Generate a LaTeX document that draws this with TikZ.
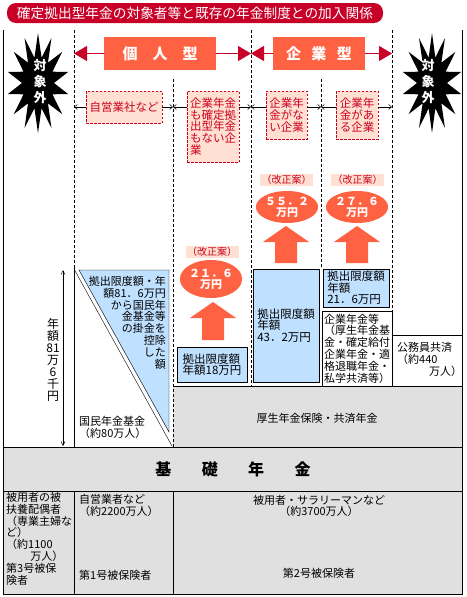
\documentclass[tikz,border=0pt]{standalone}
\usepackage{fontspec}
\setmainfont{Noto Sans CJK JP}
\usetikzlibrary{arrows.meta,positioning,shapes.geometric}
\definecolor{titlered}{RGB}{200,0,40}
\definecolor{hdrorange}{RGB}{255,98,66}
\definecolor{pinkfill}{RGB}{255,224,210}
\definecolor{linkred}{RGB}{204,0,30}
\definecolor{limitblue}{RGB}{192,224,255}
\definecolor{basegray}{RGB}{224,224,224}

\begin{document}
\begin{tikzpicture}[x=1pt,y=-1pt,
  every node/.style={inner sep=0pt},
  small/.style={font=\fontsize{11}{11.8}\selectfont},
  kind/.style={draw=linkred,dash pattern=on 2.5pt off 1.5pt,fill=pinkfill,text=linkred,
    font=\fontsize{11.5}{11.7}\selectfont,align=left},
  hdr/.style={fill=hdrorange,text=white,font=\fontsize{15}{15}\selectfont\bfseries,minimum height=33},
  hdrarrow/.style={titlered,line width=1pt,-{Triangle[length=13pt,width=15pt]}},
  link/.style={line width=0.5pt,-{Straight Barb[length=3pt,width=5pt]}},
  rev/.style={fill=pinkfill,text=linkred,font=\fontsize{10}{10}\selectfont,inner sep=1.5pt},
  bubble/.style={ellipse,fill=hdrorange,text=white,font=\fontsize{11}{11}\selectfont\bfseries,align=center},
  limit/.style={draw,fill=limitblue,font=\fontsize{11.5}{11.5}\selectfont,align=left},
  outside/.style={text=white,font=\fontsize{13}{16}\selectfont\bfseries,align=center},
  guide/.style={dash pattern=on 3pt off 2pt,line width=0.6pt},
  span/.style={line width=0.5pt,{Straight Barb[length=4pt,width=4pt]}-{Straight Barb[length=4pt,width=4pt]}}]
  \useasboundingbox (0,0) rectangle (466,597);

  \node[fill=titlered,rounded corners=9pt,text=white,font=\fontsize{13.7}{14}\selectfont,
    minimum width=376,minimum height=20] (title) at (195,13)
    {確定拠出型年金の対象者等と既存の年金制度との加入関係};

  \fill[basegray] (3,447) rectangle (462,594);
  \fill[basegray] (173,386) rectangle (462,447);
  \draw[line width=0.8pt] (3,30) -- (3,594) -- (462,594) -- (462,30);
  \draw (3,447) -- (462,447);
  \draw (3,491) -- (462,491);
  \draw (74,491) -- (74,594);
  \draw (173,491) -- (173,594);
  \draw (173,386) -- (462,386);

  \draw[guide] (74,30) -- (74,268);
  \draw[guide] (173,79) -- (173,447);
  \draw[guide] (251,30) -- (251,386);
  \draw[guide] (321,79) -- (321,269);
  \draw[guide] (392,30) -- (392,311);
  \draw (392,311) -- (392,386);
  \draw (392,335) -- (462,335);

  \fill plot[samples at={0,...,27}] ({38+(31-15*mod(\x,2))*sin(\x*360/28)},{83-(50-24*mod(\x,2))*cos(\x*360/28)}) -- cycle;
  \fill plot[samples at={0,...,27}] ({432+(30-15*mod(\x,2))*sin(\x*360/28)},{83-(50-24*mod(\x,2))*cos(\x*360/28)}) -- cycle;
  \node[outside] (outL) at (40,82) {対\\象\\外};
  \node[outside] (outR) at (428,82) {対\\象\\外};

  \coordinate (h74) at (74,53.5);
  \coordinate (h251) at (251,53.5);
  \coordinate (h392) at (392,53.5);
  \node[hdr,minimum width=112] (indiv) at (160,53.5) {個\hspace{1em}人\hspace{1em}型};
  \node[hdr,minimum width=92] (corp) at (319,53.5) {企\hspace{0.7em}業\hspace{0.7em}型};
  \draw[hdrarrow] (indiv.west) -- (h74);
  \draw[hdrarrow] (indiv.east) -- (h251);
  \draw[hdrarrow] (corp.west) -- (h251);
  \draw[hdrarrow] (corp.east) -- (h392);

  \node[kind,minimum width=76,minimum height=32] (selfemp) at (124,107) {自営業社など};
  \node[kind,minimum width=52,minimum height=71] (nofund) at (213,126.5) {企業年金\\も確定拠\\出型年金\\もない企\\業};
  \node[kind,minimum width=41,minimum height=48] (nopens) at (286.5,115) {企業年\\金がな\\い企業};
  \node[kind,minimum width=42,minimum height=48] (haspens) at (357,115) {企業年\\金があ\\る企業};
  \coordinate (g74) at (74,107);
  \coordinate (g173) at (173,107);
  \coordinate (g251) at (251,107);
  \coordinate (g321) at (321,107);
  \coordinate (g392) at (392,107);
  \draw[link] (selfemp.west) -- (g74);
  \draw[link] (selfemp.east) -- (g173);
  \draw[link] (nofund.west |- g173) -- (g173);
  \draw[link] (nofund.east |- g251) -- (g251);
  \draw[link] (nopens.west |- g251) -- (g251);
  \draw[link] (nopens.east |- g321) -- (g321);
  \draw[link] (haspens.west |- g321) -- (g321);
  \draw[link] (haspens.east |- g392) -- (g392);

  \node[rev] (rev1) at (212,252) {（改正案）};
  \node[rev] (rev2) at (286.5,180) {（改正案）};
  \node[rev] (rev3) at (357.5,180) {（改正案）};
  \node[bubble,minimum width=62,minimum height=38] (up216) at (211,279) {２１．６\\万円};
  \node[bubble,minimum width=61,minimum height=32] (up552) at (287,207) {５５．２\\万円};
  \node[bubble,minimum width=61,minimum height=32] (up276) at (357,207) {２７．６\\万円};
  \foreach \cx/\ty/\by in {213/302/340,286/226/263,357/226/263}
    \fill[hdrorange] (\cx,\ty) -- ({\cx+23},{\ty+16}) -- ({\cx+11},{\ty+16}) -- ({\cx+11},\by)
      -- ({\cx-11},\by) -- ({\cx-11},{\ty+16}) -- ({\cx-23},{\ty+16}) -- cycle;

  \filldraw[fill=limitblue] (79,270) -- (169,270) -- (169,432) -- cycle;
  \draw (74,269) -- (172,446);
  \draw (74,268) -- (74,447);
  \node[small,align=right,anchor=north east] (tritext) at (166,276)
    {拠出限度額・年\\額81．6万円\\から国民年\\金基金等\\の掛金を\\控除\\した\\額};
  \node[small,align=left,anchor=north west] (npf) at (79,416) {国民年金基金\\（約80万人）};
  \coordinate (spanT) at (63,270);
  \coordinate (spanB) at (63,446);
  \draw[span] (spanT) -- (spanB);
  \node[font=\fontsize{12}{12}\selectfont,align=center] (spanlbl) at (53,360) {年\\額\\81\\万\\6\\千\\円};

  \node[limit,minimum width=70,minimum height=35] (lim18) at (212,364.5) {拠出限度額\\年額18万円};
  \node[limit,minimum width=66,minimum height=113] (lim432) at (286,325.5) {拠出限度額\\年額\\43．2万円};
  \node[limit,minimum width=66,minimum height=38] (lim216) at (356,288) {拠出限度額\\年額\\21．6万円};
  \node[draw,fill=white,small,align=left,minimum width=70,minimum height=75] (fundetc) at (357,348.5)
    {企業年金等\\（厚生年金基\\金・確定給付\\企業年金・適\\格退職年金・\\私学共済等）};
  \node[small,align=left,anchor=north west] (civil) at (397,342) {公務員共済\\（約440\\\hspace*{2.9em}万人）};
  \node[small] (welfare) at (317,418) {厚生年金保険・共済年金};

  \node[font=\fontsize{16}{16}\selectfont\bfseries] (base) at (233,469) {基\hspace{1.9em}礎\hspace{1.9em}年\hspace{1.9em}金};
  \node[small,align=left,anchor=north west] (dep3) at (6,492)
    {被用者の被\\扶養配偶者\\（専業主婦な\\ど）\\（約1100\\\hspace*{2.2em}万人）\\第3号被保\\険者};
  \node[small,align=left,anchor=north west] (dep1) at (79,494) {自営業者など\\（約2200万人）};
  \node[small,anchor=west] (dep1no) at (79,575) {第1号被保険者};
  \node[small,align=center] (dep2) at (319,506) {被用者・サラリーマンなど\\（約3700万人）};
  \node[small] (dep2no) at (319,573) {第2号被保険者};
\end{tikzpicture}
\end{document}
